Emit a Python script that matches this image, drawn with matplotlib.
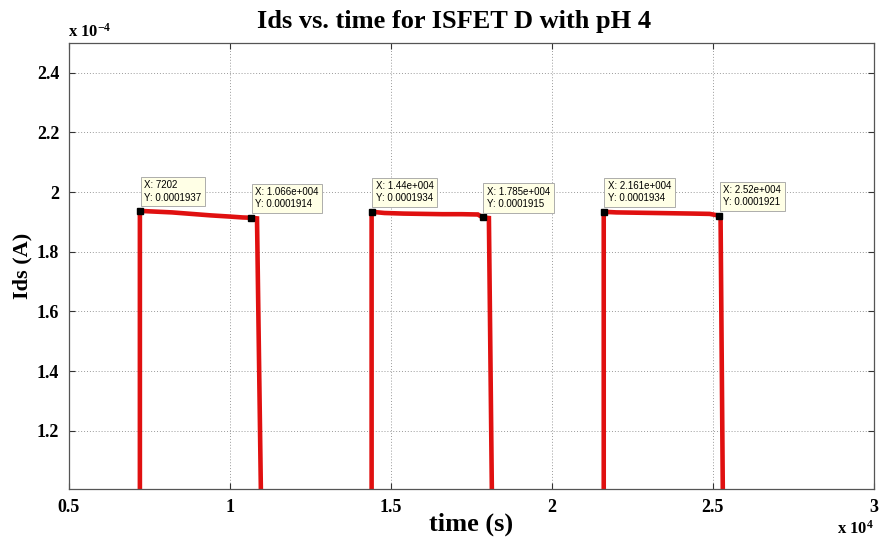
import matplotlib
matplotlib.use('Agg')
import matplotlib.pyplot as plt

# time (s) and Ids (units of 1e-4 A) for each on/off pulse
t_seg1 = [7202, 7202, 7600, 8200, 8800, 9400, 10000, 10400, 10660, 10840, 10963]
ids_seg1 = [0.0, 1.937, 1.935, 1.932, 1.927, 1.922, 1.918, 1.915, 1.914, 1.912, 0.98]

t_seg2 = [14400, 14400, 14800, 15400, 16000, 16600, 17200, 17700, 17850, 18043, 18137]
ids_seg2 = [0.0, 1.934, 1.930, 1.928, 1.927, 1.926, 1.926, 1.925, 1.915, 1.913, 0.98]

t_seg3 = [21610, 21610, 22000, 22600, 23200, 23800, 24400, 24900, 25200, 25239, 25310]
ids_seg3 = [0.0, 1.934, 1.932, 1.931, 1.930, 1.929, 1.928, 1.927, 1.921, 1.920, 0.98]

# data cursor tips
tip_x = [7202, 10660, 14400, 17850, 21610, 25200]
tip_y = [0.0001937, 0.0001914, 0.0001934, 0.0001915, 0.0001934, 0.0001921]
tip_xlabels = ['7202', '1.066e+004', '1.44e+004', '1.785e+004', '2.161e+004', '2.52e+004']

xticks = [0.5, 1, 1.5, 2, 2.5, 3]
xticklabels = ['0.5', '1', '1.5', '2', '2.5', '3']
yticks = [1.2, 1.4, 1.6, 1.8, 2.0, 2.2, 2.4]
yticklabels = ['1.2', '1.4', '1.6', '1.8', '2', '2.2', '2.4']

plt.rcParams['font.family'] = ['Liberation Serif', 'DejaVu Serif']
plt.rcParams['mathtext.default'] = 'regular'

fig = plt.figure(figsize=(8.8, 5.43), dpi=100)
ax = fig.add_axes([0.0784, 0.0994, 0.9146, 0.8216])

red = '#e01010'
for t, v in [(t_seg1, ids_seg1), (t_seg2, ids_seg2), (t_seg3, ids_seg3)]:
    ax.plot([x / 1e4 for x in t], v, color=red, lw=3.3, solid_joinstyle='miter')

for x, y, lab in zip(tip_x, tip_y, tip_xlabels):
    px, py = x / 1e4, y / 1e-4
    ax.plot(px, py, 's', color='black', ms=5, zorder=5)
    ax.annotate('X: %s\nY: %s' % (lab, ('%.7f' % y)), xy=(px, py), xytext=(3, 6),
                textcoords='offset points', ha='left', va='bottom',
                fontsize=7, family='Liberation Sans', linespacing=1.3,
                bbox=dict(boxstyle='square,pad=0.35', fc='#ffffe6', ec='#a0a0a0', lw=0.6),
                zorder=6)

ax.set_xlim(0.5, 3)
ax.set_ylim(1.005, 2.5)
ax.set_xticks(xticks)
ax.set_xticklabels(xticklabels)
ax.set_yticks(yticks)
ax.set_yticklabels(yticklabels)
ax.grid(True, linestyle=(0, (1, 2)), color='#9a9a9a', lw=0.7)
ax.tick_params(direction='in', length=4, top=True, right=True, labelsize=13,
               color='#333333', pad=7)
for lab in ax.get_xticklabels() + ax.get_yticklabels():
    lab.set_fontweight('bold')
for s in ax.spines.values():
    s.set_color('#555555')
    s.set_linewidth(0.9)

ax.set_title('Ids vs. time for ISFET D with pH 4', fontsize=19, fontweight='bold',
             pad=11, x=0.478)
ax.set_xlabel('time (s)', fontsize=19, fontweight='bold', labelpad=-2)
ax.set_ylabel('Ids (A)', fontsize=16, fontweight='bold', labelpad=3)

fig.text(0.077, 0.932, r'x 10$^{-4}$', fontsize=12, fontweight='bold')
fig.text(0.951, 0.018, r'x 10$^{4}$', fontsize=12, fontweight='bold')

fig.savefig('out.png', dpi=100)
